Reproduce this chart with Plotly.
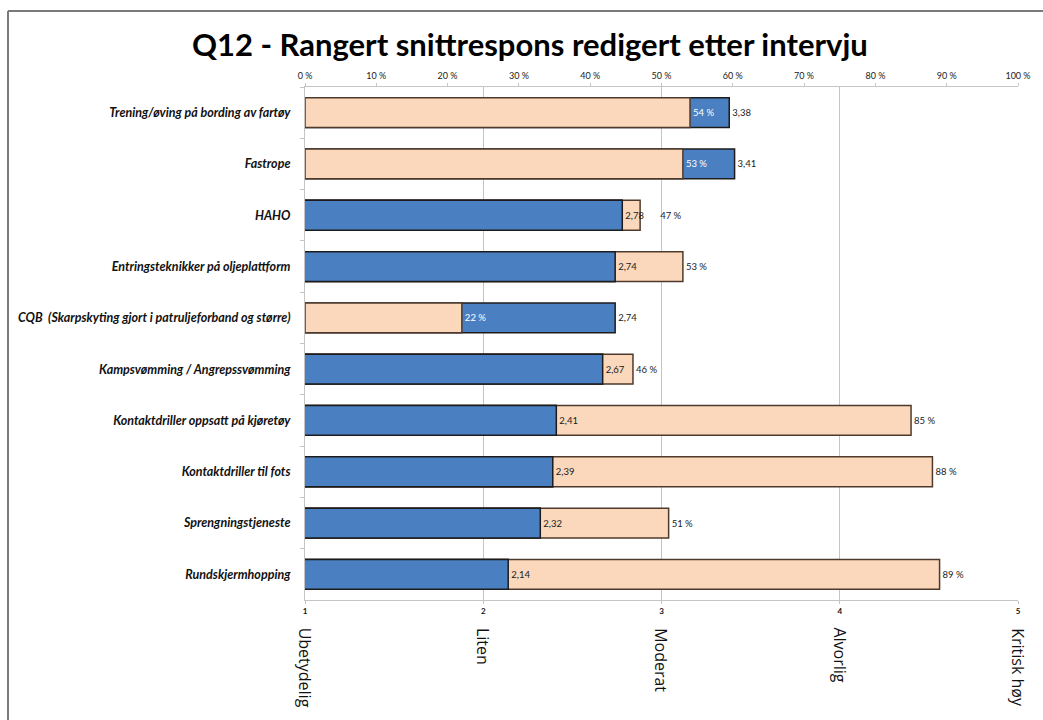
import plotly.graph_objects as go

categories = [
    "Trening/øving på bording av fartøy",
    "Fastrope",
    "HAHO",
    "Entringsteknikker på oljeplattform",
    "CQB  (Skarpskyting gjort i patruljeforband og større)",
    "Kampsvømming / Angrepssvømming",
    "Kontaktdriller oppsatt på kjøretøy",
    "Kontaktdriller til fots",
    "Sprengningstjeneste",
    "Rundskjermhopping",
]
mean_score = [3.38, 3.41, 2.78, 2.74, 2.74, 2.67, 2.41, 2.39, 2.32, 2.14]
pct_share = [54, 53, 47, 53, 22, 46, 85, 88, 51, 89]
score_ticks = [1, 2, 3, 4, 5]
score_labels = ["Ubetydelig", "Liten", "Moderat", "Alvorlig", "Kritisk høy"]
pct_ticks = [0, 10, 20, 30, 40, 50, 60, 70, 80, 90, 100]
pct_tick_text = [f"{v} %" for v in pct_ticks]

BLUE = "#4a7fc1"
BLUE_LINE = "#1c1c1c"
PEACH = "#fbd8bb"
PEACH_LINE = "#4e3a2c"
GRID = "#c4c4c4"
FONT = "Lato"

score_text = [f"{v:.2f}".replace(".", ",") for v in mean_score]
# whether the blue (score) bar is the shorter bar on a common 0..1 scale
blue_short = [(s - 1) / 4 < p / 100 for s, p in zip(mean_score, pct_share)]
# peach labels; pushed right when the blue label would collide with them
pct_text = []
for s, p, bs in zip(mean_score, pct_share, blue_short):
    gap = (1 + p / 25) - s
    pad = "\u00a0" * 7 if (bs and gap < 0.12) else ""
    pct_text.append(f"{pad}{p} %")

fig = go.Figure()

# Layer 1: all blue bars (bottom axis, 1-5)
fig.add_trace(go.Bar(
    y=categories, x=mean_score, orientation="h", xaxis="x", yaxis="y",
    marker=dict(color=BLUE, line=dict(color=BLUE_LINE, width=1.5)),
    width=0.58,
    text=[t if not bs else "" for t, bs in zip(score_text, blue_short)],
    textposition="outside", cliponaxis=False,
    textfont=dict(family=FONT, size=9.5, color="#1a1a1a"),
    showlegend=False, hoverinfo="skip",
))

# Layer 2: all peach bars (top axis, 0-100 %)
fig.add_trace(go.Bar(
    y=categories, x=pct_share, orientation="h", xaxis="x2", yaxis="y",
    marker=dict(color=PEACH, line=dict(color=PEACH_LINE, width=1.5)),
    width=0.58,
    text=pct_text, textposition="outside", cliponaxis=False,
    textfont=dict(family=FONT, size=9.5,
                  color=["#1a1a1a" if bs else "white" for bs in blue_short]),
    showlegend=False, hoverinfo="skip",
))

# Layer 3: blue bars that are shorter than the peach bar, drawn on top
fig.add_trace(go.Bar(
    y=categories,
    x=[s if bs else None for s, bs in zip(mean_score, blue_short)],
    orientation="h", xaxis="x3", yaxis="y",
    marker=dict(color=BLUE, line=dict(color=BLUE_LINE, width=1.5)),
    width=0.58,
    text=[t if bs else "" for t, bs in zip(score_text, blue_short)],
    textposition="outside", cliponaxis=False,
    textfont=dict(family=FONT, size=9.5, color="#1a1a1a"),
    showlegend=False, hoverinfo="skip",
))

# Rotated scale labels under the bottom axis
annotations = []
for v, lab in zip(score_ticks, score_labels):
    annotations.append(dict(
        x=v, y=-0.05, xref="x", yref="paper", text=lab, showarrow=False,
        textangle=90, xanchor="center", yanchor="top",
        font=dict(family="Open Sans", size=16, color="#111111"),
    ))

L, R, T, B = 305, 25, 87, 120
PW, PH = 1043 - L - R, 720 - T - B
def px(xp):
    return (xp - L) / PW
def py(yp):
    return (720 - B - yp) / PH

shapes = [
    dict(type="line", xref="paper", yref="paper", x0=px(8), x1=px(1060),
         y0=py(11), y1=py(11), line=dict(color="#7a7a7a", width=2)),
    dict(type="line", xref="paper", yref="paper", x0=px(8), x1=px(8),
         y0=py(11), y1=py(740), line=dict(color="#7a7a7a", width=2)),
]

fig.update_layout(
    width=1043, height=720,
    margin=dict(l=L, r=R, t=T, b=B),
    paper_bgcolor="white", plot_bgcolor="white",
    barmode="overlay",
    title=dict(text="<b>Q12 - Rangert snittrespons redigert etter intervju</b>",
               x=0.508, xref="container", xanchor="center",
               y=1 - 45 / 720, yref="container", yanchor="middle",
               font=dict(family=FONT, size=31, color="#000000")),
    xaxis=dict(range=[1, 5], tickvals=score_ticks,
               ticktext=[str(v) for v in score_ticks],
               tickfont=dict(family=FONT, size=8, color="#111111", weight="bold"),
               showgrid=True, gridcolor=GRID, gridwidth=1,
               showline=True, linecolor=GRID, linewidth=1,
               ticks="outside", ticklen=3, tickcolor=GRID,
               zeroline=False, fixedrange=True),
    xaxis2=dict(range=[0, 100], overlaying="x", side="top",
                tickvals=pct_ticks, ticktext=pct_tick_text,
                tickfont=dict(family=FONT, size=9, color="#222222"),
                showgrid=False, showline=True, linecolor=GRID, linewidth=1,
                ticks="outside", ticklen=3, tickcolor=GRID,
                zeroline=False, fixedrange=True),
    xaxis3=dict(range=[1, 5], overlaying="x", visible=False,
                showgrid=False, zeroline=False, fixedrange=True),
    yaxis=dict(categoryorder="array", categoryarray=categories,
               autorange="reversed",
               tickfont=dict(family=FONT, size=12.5, color="#111111",
                             weight="bold", style="italic"),
               showline=True, linecolor=GRID, linewidth=1,
               ticks="outside", tickson="boundaries", ticklen=4, tickcolor=GRID,
               ticklabelstandoff=11, showgrid=False, zeroline=False,
               fixedrange=True),
    annotations=annotations,
    shapes=shapes,
)

fig.write_html("out.html",
               config={"displayModeBar": False},
               post_script="document.body.style.margin='0';document.body.style.overflow='hidden';")
